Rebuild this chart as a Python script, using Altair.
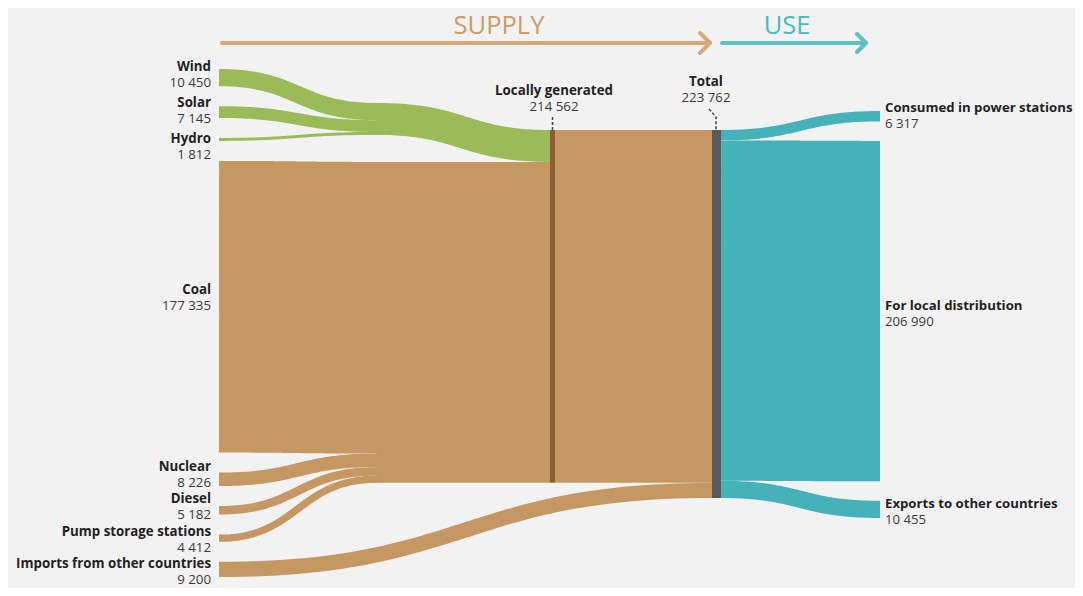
import altair as alt
import numpy as np
import pandas as pd

# ---------------- data ----------------
sources = ["Wind", "Solar", "Hydro", "Coal", "Nuclear", "Diesel",
           "Pump storage stations", "Imports from other countries"]
source_values = [10450, 7145, 1812, 177335, 8226, 5182, 4412, 9200]
source_kind = ["renewable", "renewable", "renewable", "fossil", "fossil",
               "fossil", "fossil", "import"]
uses = ["Consumed in power stations", "For local distribution",
        "Exports to other countries"]
use_values = [6317, 206990, 10455]
middle_nodes = ["Locally generated", "Total"]

local_value = sum(v for v, k in zip(source_values, source_kind) if k != "import")
renew_value = sum(v for v, k in zip(source_values, source_kind) if k == "renewable")
fossil_value = sum(v for v, k in zip(source_values, source_kind) if k == "fossil")
total_value = sum(source_values)

# ---------------- layout (pixel space of the page) ----------------
X_SRC, X_JUNC, X_LOC0, X_LOC1, X_TOT0, X_TOT1, X_USE = 219, 377, 550, 555, 712, 721, 880
K = 368.0 / total_value
TOP_LEFT, GAP_LEFT = 69, 20
NODE_TOP, JUNC_TOP = 130, 103
TOP_RIGHT, GAP_RIGHT = 111, 19.5
N = 60
H = 580

def fmt(v):
    return f"{v:,}".replace(",", " ")

def curve(x0, y0, x1, y1, n=N):
    u = np.linspace(0, 1, n)
    xs = x0 + (x1 - x0) * (1.5 * u * (1 - u) + u ** 3)
    ys = y0 + (y1 - y0) * (3 * u ** 2 - 2 * u ** 3)
    return list(zip(xs, ys))

def stack(values, top, gap=0.0):
    out, y = [], top
    for v in values:
        out.append((y, y + v * K))
        y += v * K + gap
    return out

left = stack(source_values, TOP_LEFT, GAP_LEFT)
loc_in = stack(source_values[:7], NODE_TOP)
junc = stack(source_values[:3], JUNC_TOP)
loc_node = (NODE_TOP, NODE_TOP + local_value * K)
tot_node = (NODE_TOP, NODE_TOP + total_value * K)
tot_out = stack(use_values, NODE_TOP)
right = stack(use_values, TOP_RIGHT, GAP_RIGHT)
renew_junc = (JUNC_TOP, JUNC_TOP + renew_value * K)
renew_loc = (NODE_TOP, NODE_TOP + renew_value * K)
fossil_loc = (renew_loc[1], renew_loc[1] + fossil_value * K)

def c(a):
    return (a[0] + a[1]) / 2

rows = []
def add(name, pts, w, grp):
    for j, (x, y) in enumerate(pts):
        rows.append(dict(link=name, i=j, x=float(x), y=float(y), w=w, grp=grp))

for idx, (name, v, kind) in enumerate(zip(sources, source_values, source_kind)):
    w = v * K
    if kind == "renewable":
        p = curve(X_SRC, c(left[idx]), X_JUNC, c(junc[idx])) + [(X_JUNC + 2, c(junc[idx]))]
        add(name, p, w, "green")
    elif kind == "fossil":
        p = curve(X_SRC, c(left[idx]), X_JUNC, c(loc_in[idx])) + [(X_JUNC + 2, c(loc_in[idx]))]
        add(name, p, w, "brown")
    else:
        imp = (tot_node[1] - w, tot_node[1])
        add(name, curve(X_SRC, c(left[idx]), X_TOT0, c(imp)), w, "brown")

# hidden junction -> locally generated
add("renewables", curve(X_JUNC, c(renew_junc), X_LOC0, c(renew_loc)), renew_value * K, "green")
add("fossil", [(X_JUNC, c(fossil_loc)), (X_LOC0, c(fossil_loc))], fossil_value * K, "brown")
add("local-total", [(X_LOC1, c(loc_node)), (X_TOT0, c(loc_node))], local_value * K, "brown")
for j, (name, v) in enumerate(zip(uses, use_values)):
    add(name, curve(X_TOT1, c(tot_out[j]), X_USE, c(right[j])), v * K, "teal")

links = pd.DataFrame(rows)

nodes = pd.DataFrame([
    dict(x=X_LOC0, x2=X_LOC1, y=loc_node[0], y2=loc_node[1], grp="locnode"),
    dict(x=X_TOT0, x2=X_TOT1, y=tot_node[0], y2=tot_node[1], grp="totnode"),
])

grp_dom = ["green", "brown", "teal", "locnode", "totnode", "supply", "use", "lead"]
grp_rng = ["#9bbb59", "#c49763", "#45b2ba", "#8b5e34", "#595959", "#d4aa7c", "#5cc0c4", "#444444"]
COL = alt.Color("grp:N", scale=alt.Scale(domain=grp_dom, range=grp_rng), legend=None)

xs = alt.Scale(domain=[8, 1075])
ys = alt.Scale(domain=[8, 8 + H], reverse=True)
X = alt.X("x:Q", scale=xs, axis=None)
Y = alt.Y("y:Q", scale=ys, axis=None)

# label placement offsets (name line relative to band centre)
left_off = [-10.5, -9.5, 0, -16.5, -12, -11, -6.6, -5.8]
right_off = [-8, -5, -5.5]
LINE = 16.0

lab_l = pd.DataFrame(dict(
    x=[211] * len(sources),
    y=[c(left[i]) + left_off[i] for i in range(len(sources))],
    name=sources,
    val=[fmt(v) for v in source_values]))
lab_l["y2"] = lab_l["y"] + LINE

lab_r = pd.DataFrame(dict(
    x=[885] * len(uses),
    y=[c(right[i]) + right_off[i] for i in range(len(uses))],
    name=uses,
    val=[fmt(v) for v in use_values]))
lab_r["y2"] = lab_r["y"] + LINE

lab_m = pd.DataFrame(dict(
    x=[554, 706], y=[91, 82], name=middle_nodes,
    val=[fmt(local_value), fmt(total_value)]))
lab_m["y2"] = lab_m["y"] + LINE

leads = pd.DataFrame([
    dict(link="a", i=0, x=552.5, y=117), dict(link="a", i=1, x=552.5, y=130),
    dict(link="b", i=0, x=709, y=109), dict(link="b", i=1, x=716, y=117),
    dict(link="b", i=2, x=716, y=130),
])
leads["grp"] = "lead"

arrows = pd.DataFrame([
    dict(link="s1", i=0, x=222, y=43, grp="supply"), dict(link="s1", i=1, x=710, y=43, grp="supply"),
    dict(link="s2", i=0, x=700, y=33, grp="supply"), dict(link="s2", i=1, x=710, y=43, grp="supply"),
    dict(link="s2", i=2, x=700, y=53, grp="supply"),
    dict(link="u1", i=0, x=722, y=43, grp="use"), dict(link="u1", i=1, x=866, y=43, grp="use"),
    dict(link="u2", i=0, x=857, y=34, grp="use"), dict(link="u2", i=1, x=866, y=43, grp="use"),
    dict(link="u2", i=2, x=857, y=52, grp="use"),
])
heads = pd.DataFrame(dict(x=[499, 787], y=[34, 34], t=["SUPPLY", "USE"], col=["#c99d6c", "#4bb9bd"]))

FONT = "Open Sans"

link_layer = alt.Chart(links).mark_line(strokeCap="butt", strokeJoin="round").encode(
    x=X, y=Y, detail="link:N", order="i:Q", color=COL,
    strokeWidth=alt.StrokeWidth("w:Q", scale=None))

node_layer = alt.Chart(nodes).mark_rect().encode(
    x=X, x2="x2:Q", y=Y, y2="y2:Q", color=COL)

lead_layer = alt.Chart(leads).mark_line(strokeDash=[3, 2], strokeWidth=1.5).encode(
    x=X, y=Y, detail="link:N", order="i:Q", color=COL)

arrow_layer = alt.Chart(arrows).mark_line(strokeWidth=4, strokeCap="round", strokeJoin="round").encode(
    x=X, y=Y, detail="link:N", order="i:Q", color=COL)

head_layer = alt.Chart(heads).mark_text(font=FONT, fontSize=25.5, baseline="alphabetic").encode(
    x=X, y=Y, text="t:N", color=alt.Color("col:N", scale=None))

def text_layers(df, align, size):
    a = alt.Chart(df).mark_text(font=FONT, fontSize=size, fontWeight="bold", align=align,
                                baseline="middle", color="#1f1f1f").encode(x=X, y=Y, text="name:N")
    b = alt.Chart(df).mark_text(font=FONT, fontSize=size, align=align, baseline="middle",
                                color="#3a3a3a").encode(x=X, y=alt.Y("y2:Q", scale=ys, axis=None), text="val:N")
    return [a, b]

layers = [link_layer, node_layer, lead_layer, arrow_layer, head_layer] + \
    text_layers(lab_l, "right", 13.3) + text_layers(lab_r, "left", 13.2) + text_layers(lab_m, "center", 13.3)

chart = alt.layer(*layers).properties(
    width=1067, height=H, background="#f2f2f2", padding=0,
    autosize=alt.AutoSizeParams(type="none"),
).configure_view(stroke=None)

chart.save("out.html", embed_options={"renderer": "svg", "actions": False})
